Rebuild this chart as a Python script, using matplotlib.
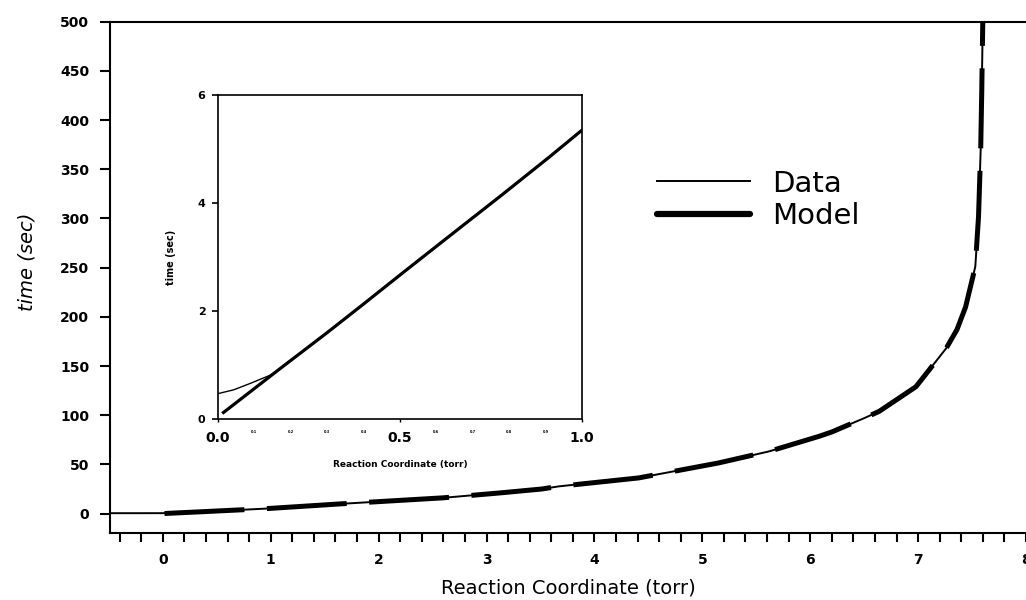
import numpy as np
import matplotlib
matplotlib.use("Agg")
import matplotlib.pyplot as plt
from matplotlib.lines import Line2D
from matplotlib.ticker import MultipleLocator, FixedLocator

# kurva model (garis tebal)
model_x = [0.015, 0.17, 0.3, 0.4, 0.51, 0.64, 0.78, 0.91, 1.0, 1.66, 2.59, 3.12,
           3.51, 3.67, 4.41, 5.15, 5.62, 6.08, 6.2, 6.51, 6.64, 6.98, 7.26, 7.36,
           7.44, 7.53, 7.56, 7.58, 7.59, 7.6]
model_y = [0.12, 0.93, 1.6, 2.13, 2.72, 3.41, 4.15, 4.85, 5.35, 10, 16, 21,
           25, 27.7, 36.3, 51.5, 63.3, 78.5, 83, 97.5, 104, 129, 168, 187,
           210, 251, 302, 370, 430, 505]

# kurva data (garis tipis)
data_x = [-0.49, -0.2, 0.0, 0.043, 0.089, 0.143, 0.17, 0.3, 0.4, 0.51, 0.64, 0.78,
          0.91, 1.0, 1.66, 2.59, 3.12, 3.51, 3.67, 4.41, 5.15, 5.62, 6.08, 6.2,
          6.51, 6.64, 6.98, 7.26, 7.36, 7.44, 7.53, 7.56, 7.58, 7.59, 7.6]
data_y = [0.45, 0.45, 0.47, 0.54, 0.66, 0.81, 0.93, 1.6, 2.13, 2.72, 3.41, 4.15,
          4.85, 5.35, 10, 16, 21, 25, 27.7, 36.3, 51.5, 63.3, 78.5, 83,
          97.5, 104, 129, 168, 187, 210, 251, 302, 370, 430, 505]

main_yticks = [0, 50, 100, 150, 200, 250, 300, 350, 400, 450, 500]
main_xticks = [0, 1, 2, 3, 4, 5, 6, 7, 8]
inset_yticks = [0, 2, 4, 6]
inset_xticks = [0.0, 0.5, 1.0]
inset_minor = [0.1, 0.2, 0.3, 0.4, 0.6, 0.7, 0.8, 0.9]

W, H = 1026, 600
fig = plt.figure(figsize=(W / 100, H / 100), dpi=100)
plt.rcParams["font.family"] = ["DejaVu Sans"]

# --- plot utama ---
ax = fig.add_axes([110 / W, 1 - 533.3 / H, 1 - 110 / W, (533.3 - 21.7) / H])
ax.plot(data_x, data_y, color="black", lw=1.4, zorder=2)
ax.plot(model_x, model_y, color="black", lw=3.6, dashes=(16, 4.5),
        solid_capstyle="butt", dash_capstyle="butt", zorder=3)
ax.set_xlim(-0.49, 8.0)
ax.set_ylim(-20, 500)
ax.spines["right"].set_visible(False)
for s in ["left", "bottom", "top"]:
    ax.spines[s].set_linewidth(1.5)
ax.set_yticks(main_yticks)
ax.set_xticks(main_xticks)
ax.xaxis.set_minor_locator(MultipleLocator(0.2))
ax.tick_params(axis="y", direction="out", length=7, width=1.5, pad=8, labelsize=10)
ax.tick_params(axis="x", which="both", direction="out", length=6.5, width=1.5,
               pad=8, labelsize=10)
for lbl in ax.get_xticklabels() + ax.get_yticklabels():
    lbl.set_fontweight("bold")
ax.set_xlabel("Reaction Coordinate (torr)", fontsize=14)
ax.xaxis.set_label_coords(0.5, -0.089)
ax.set_ylabel("time (sec)", fontsize=14, style="italic")
ax.yaxis.set_label_coords(-0.08, 0.53)

handles = [Line2D([], [], color="black", lw=1.4),
           Line2D([], [], color="black", lw=4.5, solid_capstyle="round")]
ax.legend(handles, ["Data", "Model"], loc="upper left",
          bbox_to_anchor=(642 / W, 1 - 155 / H), bbox_transform=fig.transFigure,
          frameon=False, fontsize=21, handlelength=3.2, handletextpad=0.75,
          labelspacing=0.15, borderpad=0)

# --- inset ---
ins = fig.add_axes([218 / W, 1 - 419 / H, (582 - 218) / W, (419 - 95) / H])
ins.plot(data_x[2:14], data_y[2:14], color="black", lw=1.0, zorder=2)
ins.plot(model_x[:9], model_y[:9], color="black", lw=2.3, zorder=3)
ins.set_xlim(0, 1.0)
ins.set_ylim(0, 6)
for s in ins.spines.values():
    s.set_linewidth(1.2)
ins.set_yticks(inset_yticks)
ins.xaxis.set_major_locator(FixedLocator(inset_xticks))
ins.xaxis.set_minor_locator(FixedLocator(inset_minor))
ins.set_xticklabels(["0.0", "0.5", "1.0"], minor=False)
ins.set_xticklabels(["0.1", "0.2", "0.3", "0.4", "0.6", "0.7", "0.8", "0.9"],
                    minor=True, fontsize=2.5, fontweight="bold")
ins.tick_params(axis="y", direction="out", length=4, width=1.2, pad=5, labelsize=8)
ins.tick_params(axis="x", which="major", direction="out", length=2, width=1.0,
                pad=7, labelsize=10)
ins.tick_params(axis="x", which="minor", direction="out", length=0, pad=8)
for lbl in ins.get_yticklabels() + ins.get_xticklabels():
    lbl.set_fontweight("bold")
ins.set_xlabel("Reaction Coordinate (torr)", fontsize=6.5, fontweight="bold")
ins.xaxis.set_label_coords(0.5, -0.125)
ins.set_ylabel("time (sec)", fontsize=7, fontweight="bold")
ins.yaxis.set_label_coords(-0.115, 0.5)

fig.savefig("out.png", dpi=100)
